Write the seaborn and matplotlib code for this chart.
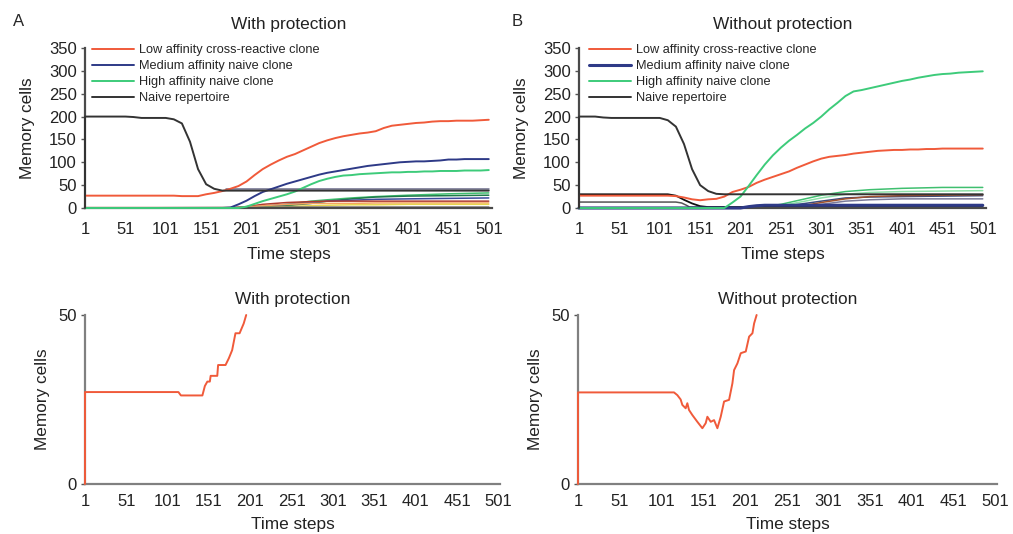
import numpy as np
import matplotlib.pyplot as plt
import seaborn as sns

sns.set_style('white')
plt.rcParams['font.family'] = ['Liberation Sans', 'DejaVu Sans']

# time grid: the first point is repeated so each curve can start from 0 at t=1
steps = np.r_[1, np.arange(1, 502, 10)]
other_t = [1, 181, 201, 221, 251, 281, 301, 331, 361, 401, 451, 501]
x_ticks = [1, 51, 101, 151, 201, 251, 301, 351, 401, 451, 501]

labels = ['Low affinity cross-reactive clone', 'Medium affinity naive clone',
          'High affinity naive clone', 'Naive repertoire']
colors = ['#f05a3a', '#2e3a87', '#3dcb7a', '#333333']

# ---- with protection (panel A)
with_low = [0, 27, 27, 27, 27, 27, 27, 27, 27, 27, 27, 27, 27,
            26, 26, 26, 30, 33, 37, 42, 48, 58, 72, 85, 95,
            104, 112, 118, 126, 134, 142, 148, 153, 157, 160, 163, 165,
            168, 175, 180, 182, 184, 186, 187, 189, 190, 190, 191, 191,
            191, 192, 193]
with_med = [0, 0, 0, 0, 0, 0, 0, 0, 0, 0, 0, 0, 0, 0, 0, 0, 0, 0, 0,
            1, 8, 16, 26, 35, 41, 47, 53, 58, 63, 68, 73, 77, 80, 83, 86,
            89, 92, 94, 96, 98, 100, 101, 102, 102, 103, 104, 106, 106,
            107, 107, 107, 107]
with_high = [0, 0, 0, 0, 0, 0, 0, 0, 0, 0, 0, 0, 0, 0, 0, 0, 0, 0, 0, 0, 0,
             3, 9, 15, 20, 25, 30, 36, 44, 52, 59, 64, 68, 71, 72, 74, 75,
             76, 77, 78, 78, 79, 79, 80, 80, 81, 81, 81, 82, 82, 82, 83]
with_naive = [0, 200, 200, 200, 200, 200, 200, 199, 197, 197, 197, 197,
              194, 185, 145, 85, 52, 42, 38, 38, 38, 38, 38, 38, 38, 38,
              38, 38, 38, 38, 38, 38, 38, 38, 38, 38, 38, 38, 38, 38, 38,
              38, 38, 38, 38, 38, 38, 38, 38, 38, 38, 38]
with_other = {
    '#3fbf6f': [0, 0, 0, 2, 8, 15, 18, 22, 25, 28, 31, 33],
    '#1f7a4a': [0, 0, 0, 1, 5, 10, 15, 20, 24, 26, 27, 28],
    '#3b4a9c': [0, 0, 2, 5, 8, 12, 15, 17, 19, 20, 21, 22],
    '#b03a2e': [0, 0, 3, 8, 12, 14, 15, 15, 15, 15, 15, 15],
    '#f4a460': [0, 0, 2, 5, 8, 10, 10, 10, 11, 11, 11, 11],
    '#e8d44d': [0, 0, 0, 1, 3, 5, 6, 7, 7, 8, 8, 8],
    '#777777': [0, 1, 1, 1, 2, 2, 2, 2, 2, 2, 2, 2],
}
with_gray_t = [176, 501]
with_gray = [41, 41]

# ---- without protection (panel B)
without_low = [0, 27, 27, 27, 27, 27, 27, 27, 27, 27, 27, 27, 27,
               26, 23, 19, 17, 19, 20, 25, 35, 40, 46,
               55, 62, 68, 74, 80, 88, 95, 102, 108, 112,
               114, 116, 119, 121, 123, 125, 126, 127, 127, 128,
               128, 129, 129, 130, 130, 130, 130, 130, 130]
without_med = [0, 0, 0, 0, 0, 0, 0, 0, 0, 0, 0, 0, 0, 0, 0, 0, 0, 0, 0, 0,
               0, 0, 3, 5, 6, 6, 6, 6, 6, 6, 6, 6, 6, 6, 6, 6, 6, 6, 6, 6,
               6, 6, 6, 6, 6, 6, 6, 6, 6, 6, 6, 6]
without_high = [0, 0, 0, 0, 0, 0, 0, 0, 0, 0, 0, 0, 0, 0, 0, 0, 0, 0, 0, 0,
                12, 25, 48, 72, 95, 115, 132, 147, 160, 174, 186, 200, 216,
                230, 245, 255, 258, 262, 266, 270, 274, 278, 281, 285, 288,
                291, 293, 294, 296, 297, 298, 299]
without_naive = [0, 200, 200, 200, 198, 197, 197, 197, 197, 197, 197, 197,
                 192, 178, 140, 85, 50, 37, 31, 30, 30, 30, 30, 30, 30, 30,
                 30, 30, 30, 30, 30, 30, 30, 30, 30, 30, 30, 30, 30, 30, 30,
                 30, 30, 30, 30, 30, 30, 30, 30, 30, 30, 30]
without_other = {
    '#7fa3dd': [0, 0, 0, 0, 0, 0, 0, 0, 0, 0, 0, 0],
    '#3fbf6f': [0, 0, 0, 0, 8, 20, 28, 36, 40, 43, 45, 45],
    '#8ee0a8': [0, 0, 0, 0, 5, 15, 22, 30, 34, 36, 37, 38],
    '#3b4a7c': [0, 0, 0, 0, 3, 10, 15, 22, 24, 25, 26, 27],
    '#7a7a9a': [0, 0, 0, 0, 0, 3, 8, 15, 18, 20, 20, 20],
    '#a0522d': [0, 0, 0, 0, 2, 6, 12, 20, 25, 27, 28, 29],
}
without_black_t = [1, 111, 121, 131, 141, 151, 161, 501]
without_black = [30, 30, 27, 18, 10, 4, 2, 2]
without_gray_t = [1, 121, 128, 134, 138, 501]
without_gray = [13, 13, 11, 6, 2, 1]

# ---- zoomed low affinity clone (lower panels)
zoom_with_t = [1, 1, 114, 117, 143, 146, 149, 152, 153, 161, 162, 171,
               175, 179, 183, 188, 193, 196]
zoom_with = [0, 27.2, 27.2, 26.2, 26.2, 29, 30.3, 30.3, 32, 32, 35.2, 35.2,
             37.2, 39.6, 44.6, 44.6, 47.5, 50]
zoom_without_t = [1, 1, 116, 120, 124, 126, 130, 132, 134, 138, 144, 150,
                  154, 156, 160, 164, 168, 172, 176, 182, 186, 188, 192,
                  196, 202, 206, 210, 212, 215]
zoom_without = [0, 27.1, 27.1, 26.3, 25, 23.4, 22.4, 23.9, 21.9, 20.4, 18.4,
                16.5, 18, 19.9, 18.4, 18.9, 16.5, 19.9, 24.4, 24.9, 29.8,
                33.7, 35.7, 38.7, 39.2, 43.6, 44.6, 47.5, 50]

fig = plt.figure(figsize=(10.13, 5.34), dpi=100)
W, H = 1013, 534


def box(l, t, r, b):
    return [l / W, 1 - b / H, (r - l) / W, (b - t) / H]


ax1 = fig.add_axes(box(85, 48, 492, 208))
ax2 = fig.add_axes(box(579, 48, 986, 208))
ax3 = fig.add_axes(box(85, 315, 500, 484))
ax4 = fig.add_axes(box(578, 315, 997, 484))

# top panels
for ax, other, mains in [(ax1, with_other, [with_low, with_med, with_high, with_naive]),
                         (ax2, without_other, [without_low, without_med, without_high, without_naive])]:
    if ax is ax1:
        sns.lineplot(x=steps, y=np.zeros(len(steps)) + 0.6, ax=ax, color='#f7b3a0',
                     lw=2.5, estimator=None, sort=False)
        sns.lineplot(x=with_gray_t, y=with_gray, ax=ax, color='#6d6d8c', lw=1.1,
                     estimator=None, sort=False)
    for c, vals in other.items():
        sns.lineplot(x=other_t, y=vals, ax=ax, color=c, lw=1.1,
                     estimator=None, sort=False)
    if ax is ax2:
        sns.lineplot(x=without_gray_t, y=without_gray, ax=ax, color='#555555',
                     lw=1.1, estimator=None, sort=False)
        sns.lineplot(x=without_black_t, y=without_black, ax=ax, color='#111111',
                     lw=1.3, estimator=None, sort=False)
    for vals, c, lab in zip(mains, colors, labels):
        lw = 2.2 if (ax is ax2 and lab.startswith('Medium')) else 1.4
        sns.lineplot(x=steps, y=vals, ax=ax, color=c, lw=lw, label=lab,
                     estimator=None, sort=False, zorder=3, clip_on=False)
    ax.set_ylim(0, 350)
    ax.set_yticks(range(0, 351, 50))
    ax.set_xlim(1, 505)
    h, l = ax.get_legend_handles_labels()
    order = [l.index(s) for s in labels]
    anchor_x = 92 / W if ax is ax1 else 589 / W
    ax.legend([h[i] for i in order], labels, loc='upper left',
              bbox_to_anchor=(anchor_x, 1 - 44 / H), bbox_transform=fig.transFigure,
              frameon=False, fontsize=9.2, handlelength=3.3, handletextpad=0.4,
              labelspacing=0.32, borderpad=0, borderaxespad=0)

# lower panels
sns.lineplot(x=zoom_with_t, y=zoom_with, ax=ax3, color='#f05a3a', lw=1.4,
             estimator=None, sort=False, zorder=3, clip_on=False)
sns.lineplot(x=zoom_without_t, y=zoom_without, ax=ax4, color='#f05a3a', lw=1.4,
             estimator=None, sort=False, zorder=3, clip_on=False)
for ax in (ax3, ax4):
    ax.set_ylim(0, 50)
    ax.set_yticks([0, 50])
    ax.set_xlim(1, 503)

for ax, title in zip([ax1, ax2, ax3, ax4],
                     ['With protection', 'Without protection',
                      'With protection', 'Without protection']):
    top = ax in (ax1, ax2)
    ax.set_xticks(x_ticks)
    ax.set_xticklabels([str(t) for t in x_ticks])
    ax.set_title(title, fontsize=12.4, pad=14 if top else 8, color='#222222')
    ax.set_xlabel('Time steps', fontsize=12.4, labelpad=7.5 if top else 6, color='#222222')
    ax.set_ylabel('Memory cells', fontsize=12.4, labelpad=10 if top else 6, color='#222222')
    ax.tick_params(axis='x', length=0, pad=10 if top else 7, labelsize=12, colors='#222222')
    ax.tick_params(axis='y', length=3, width=1, direction='out', pad=3,
                   labelsize=12, color='#555555', labelcolor='#222222', left=True)
    sns.despine(ax=ax)
    for s in ('left', 'bottom'):
        ax.spines[s].set_color('#4a4a4a' if top else '#808080')
        ax.spines[s].set_linewidth(1.6)

fig.text(13 / W, 1 - 22 / H, 'A', fontsize=12, va='center', ha='left')
fig.text(512 / W, 1 - 22 / H, 'B', fontsize=12, va='center', ha='left')

plt.savefig('out.png', dpi=100)
